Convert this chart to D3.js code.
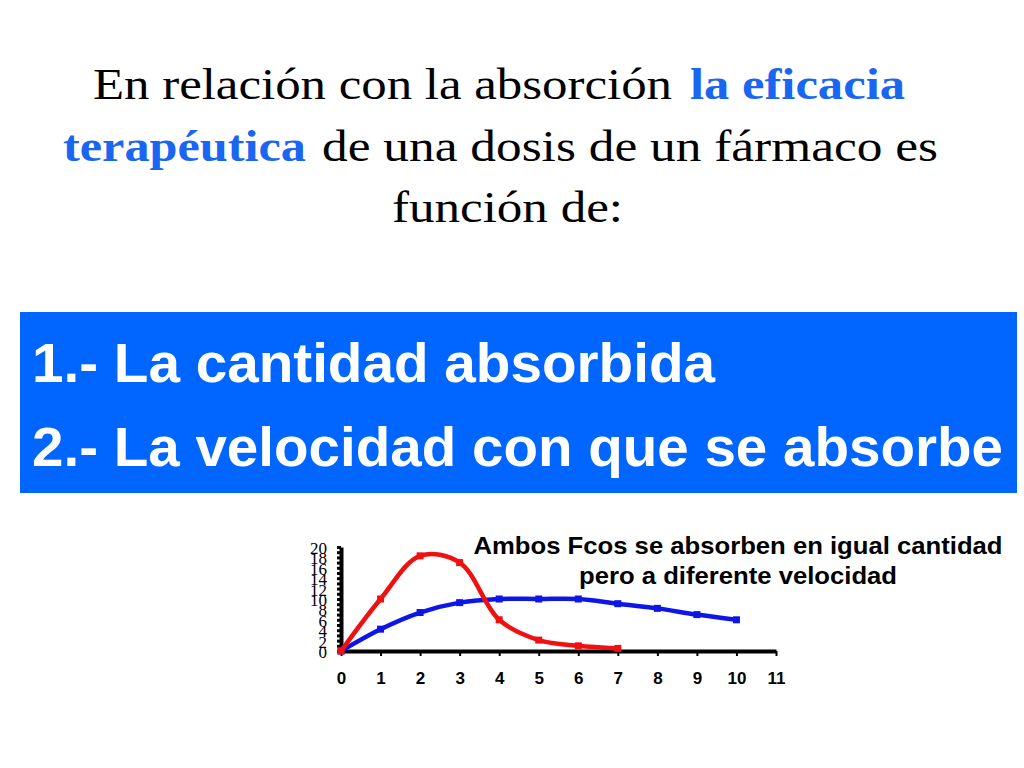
<!DOCTYPE html>
<html>
<head>
<meta charset="utf-8">
<script src="https://cdn.jsdelivr.net/npm/d3@7"></script>
<style>
  body { margin: 0; background: #fff; }
  svg { display: block; }
</style>
</head>
<body>
<div id="chart"></div>
<script>
// data
const hours = [0, 1, 2, 3, 4, 5, 6, 7, 8, 9, 10];
const fastDrug = [0, 10, 18.3, 17, 6, 2.1, 1, 0.5];
const slowDrug = [0, 4.2, 7.4, 9.3, 10, 10, 10, 9.1, 8.2, 7, 6];
const yTicks = [0, 2, 4, 6, 8, 10, 12, 14, 16, 18, 20];
const xTicks = [0, 1, 2, 3, 4, 5, 6, 7, 8, 9, 10, 11];

const titleLines = [
    [{ t: "En relación con la absorción", x: 93, w: 579 }, { t: "la eficacia", x: 690, w: 215, hi: true }],
    [{ t: "terapéutica", x: 63, w: 243, hi: true }, { t: "de una dosis de un fármaco es", x: 322, w: 616 }],
    [{ t: "función de:", x: 392, w: 231 }]
];
const boxLines = ["1.- La cantidad absorbida", "2.- La velocidad con que se absorbe"];
const notes = ["Ambos Fcos se absorben en igual cantidad", "pero a diferente velocidad"];

const svg = d3.select("#chart").append("svg")
    .attr("width", 1024)
    .attr("height", 768);

// title, Times-like serif
const titleBase = [99, 161, 222];
titleLines.forEach((line, i) => {
    line.forEach(seg => {
        svg.append("text")
            .attr("x", seg.x)
            .attr("y", titleBase[i])
            .attr("textLength", seg.w)
            .attr("lengthAdjust", "spacingAndGlyphs")
            .style("font-family", "'Liberation Serif', 'DejaVu Serif', serif")
            .style("font-size", "44px")
            .style("font-weight", seg.hi ? "bold" : "normal")
            .style("fill", seg.hi ? "#1a66f0" : "#000")
            .text(seg.t);
    });
});

// blue box
svg.append("rect")
    .attr("x", 20).attr("y", 312)
    .attr("width", 997).attr("height", 181)
    .attr("fill", "#0066ff");

const boxWidths = [683, 971];
const boxBase = [382, 466];
boxLines.forEach((t, i) => {
    svg.append("text")
        .attr("x", 32)
        .attr("y", boxBase[i])
        .attr("textLength", boxWidths[i])
        .attr("lengthAdjust", "spacingAndGlyphs")
        .style("font-family", "'Liberation Sans', Arial, sans-serif")
        .style("font-size", "56px")
        .style("font-weight", "bold")
        .style("fill", "#fff")
        .text(t);
});

// chart
const x = d3.scaleLinear().domain([0, 11]).range([341, 776]);
const y = d3.scaleLinear().domain([0, 20]).range([651, 547]);

// y axis: thick bar with a tick per unit, labels every 2
const yAxis = svg.append("g")
    .attr("transform", "translate(341,0)")
    .call(d3.axisLeft(y).tickValues(d3.range(0, 21, 1)).tickSize(4).tickSizeOuter(0).tickFormat(""));
yAxis.select(".domain").attr("stroke-width", 4);
yAxis.selectAll(".tick line").attr("stroke-width", 3);

svg.append("g").selectAll("text")
    .data(yTicks)
    .enter()
    .append("text")
    .attr("x", 327)
    .attr("y", d => y(d) + 7)
    .attr("text-anchor", "end")
    .style("font-family", "'Liberation Serif', serif")
    .style("font-size", "17px")
    .text(d => d);

// x axis
const xAxis = svg.append("g")
    .attr("transform", "translate(0,651)")
    .call(d3.axisBottom(x).tickValues(xTicks).tickSize(5).tickSizeOuter(0).tickPadding(16));
xAxis.select(".domain").attr("stroke-width", 4);
xAxis.selectAll(".tick line").attr("stroke-width", 2);
xAxis.selectAll(".tick text")
    .style("font-family", "'Liberation Sans', Arial, sans-serif")
    .style("font-size", "17px")
    .style("font-weight", "bold");

const line = d3.line()
    .x((d, i) => x(hours[i]))
    .y(d => y(d))
    .curve(d3.curveCatmullRom);

const series = [
    { values: slowDrug, color: "#0d16e8" },
    { values: fastDrug, color: "#f01010" }
];

series.forEach(s => {
    svg.append("path")
        .datum(s.values)
        .attr("d", line)
        .attr("fill", "none")
        .attr("stroke", s.color)
        .attr("stroke-width", 4.5)
        .attr("stroke-linecap", "round");

    svg.selectAll(null)
        .data(s.values)
        .enter()
        .append("rect")
        .attr("x", (d, i) => x(hours[i]) - 3.5)
        .attr("y", d => y(d) - 3.5)
        .attr("width", 7)
        .attr("height", 7)
        .attr("fill", s.color);
});

// annotation
const noteBase = [554, 584];
const noteWidths = [529, 318];
notes.forEach((t, i) => {
    svg.append("text")
        .attr("x", 738)
        .attr("y", noteBase[i])
        .attr("text-anchor", "middle")
        .attr("textLength", noteWidths[i])
        .attr("lengthAdjust", "spacingAndGlyphs")
        .style("font-family", "'Liberation Sans', Arial, sans-serif")
        .style("font-size", "24px")
        .style("font-weight", "bold")
        .text(t);
});
</script>
</body>
</html>
